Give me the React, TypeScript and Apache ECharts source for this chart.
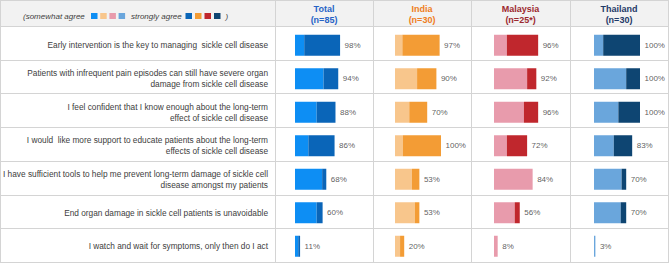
import React, { useEffect, useRef } from "react";
import * as echarts from "echarts";

const statements = [
  "Early intervention is the key to managing  sickle cell disease",
  "Patients with infrequent pain episodes can still have severe organ\ndamage from sickle cell disease",
  "I feel confident that I know enough about the long-term\neffect of sickle cell disease",
  "I would  like more support to educate patients about the long-term\neffects of sickle cell disease",
  "I have sufficient tools to help me prevent long-term damage of sickle cell\ndisease amongst my patients",
  "End organ damage in sickle cell patients is unavoidable",
  "I watch and wait for symptoms, only then do I act",
];

const groupNames = ["Total", "India", "Malaysia", "Thailand"];
const groupSizes = ["(n=85)", "(n=30)", "(n=25*)", "(n=30)"];

const totalSomewhat = [20, 62, 47, 29, 59, 47, 7];
const totalStrongly = [78, 32, 41, 57, 9, 13, 4];
const totalNet = [98, 94, 88, 86, 68, 60, 11];

const indiaSomewhat = [16, 48, 31, 17, 37, 43, 11];
const indiaStrongly = [81, 42, 39, 83, 16, 10, 9];
const indiaNet = [97, 90, 70, 100, 53, 53, 20];

const malaysiaSomewhat = [28, 72, 65, 28, 84, 45, 8];
const malaysiaStrongly = [68, 20, 31, 44, 0, 11, 0];
const malaysiaNet = [96, 92, 96, 72, 84, 56, 8];

const thailandSomewhat = [20, 70, 53, 43, 60, 58, 3];
const thailandStrongly = [80, 30, 47, 40, 10, 12, 0];
const thailandNet = [100, 100, 100, 83, 70, 70, 3];

const FONT = '"Liberation Sans", Arial, sans-serif';
const TEXT = "#404040";
const LINE = "#d4d4d4";

const somewhatColors = ["#0d8ef4", "#f8c68c", "#e89bac", "#6aa6dc"];
const stronglyColors = ["#0a65b8", "#f39c35", "#c0272d", "#0e4572"];
const headerColors = ["#2763c6", "#ef7d22", "#9c2a2f", "#1f3a68"];

const groups = [
  { somewhat: totalSomewhat, strongly: totalStrongly, net: totalNet },
  { somewhat: indiaSomewhat, strongly: indiaStrongly, net: indiaNet },
  { somewhat: malaysiaSomewhat, strongly: malaysiaStrongly, net: malaysiaNet },
  { somewhat: thailandSomewhat, strongly: thailandStrongly, net: thailandNet },
];

export default function App() {
  const ref = useRef<HTMLDivElement>(null);
  useEffect(() => {
    if (!ref.current) return;
    const chart = echarts.init(ref.current, null, { renderer: "svg" });
    const W = 669;
    const colX = [275, 373, 471, 570, 668];
    const barLeft = [295, 395, 494, 594];
    const tableTop = 26;
    const tableBottom = 262;
    const rowH = (tableBottom - tableTop) / statements.length;

    const graphic: any[] = [];
    graphic.push({ type: "rect", shape: { x: 0, y: 0, width: W, height: tableTop }, style: { fill: "#f2f2f2" }, silent: true, z: -10 });
    for (let i = 0; i <= statements.length; i++) {
      const y = Math.round(tableTop + i * rowH);
      graphic.push({ type: "rect", shape: { x: 0, y: Math.min(y, 262), width: W, height: 1 }, style: { fill: LINE }, silent: true, z: -5 });
    }
    graphic.push({ type: "rect", shape: { x: 0, y: 0, width: W, height: 1 }, style: { fill: LINE }, silent: true, z: -5 });
    graphic.push({ type: "rect", shape: { x: 0, y: 0, width: 1, height: 263 }, style: { fill: LINE }, silent: true, z: -5 });
    colX.forEach((x) => {
      graphic.push({ type: "rect", shape: { x, y: 0, width: 1, height: 263 }, style: { fill: LINE }, silent: true, z: -5 });
    });
    // header
    groupNames.forEach((name, i) => {
      const cx = (colX[i] + colX[i + 1]) / 2;
      graphic.push({ type: "text", x: cx, y: 8.5, style: { text: name, fill: headerColors[i], font: `bold 9px ${FONT}`, textAlign: "center", textVerticalAlign: "middle" } });
      graphic.push({ type: "text", x: cx, y: 19.5, style: { text: groupSizes[i], fill: headerColors[i], font: `bold 9px ${FONT}`, textAlign: "center", textVerticalAlign: "middle" } });
    });
    // legend
    graphic.push({ type: "text", x: 23, y: 16, style: { text: "(somewhat agree", fill: TEXT, font: `italic 8px ${FONT}`, textVerticalAlign: "middle" } });
    somewhatColors.forEach((c, i) => {
      graphic.push({ type: "rect", shape: { x: 91 + i * 9.2, y: 13, width: 6.5, height: 6 }, style: { fill: c } });
    });
    graphic.push({ type: "text", x: 131, y: 16, style: { text: "strongly agree", fill: TEXT, font: `italic 8px ${FONT}`, textVerticalAlign: "middle" } });
    stronglyColors.forEach((c, i) => {
      graphic.push({ type: "rect", shape: { x: 185.5 + i * 9.5, y: 13, width: 6.5, height: 6 }, style: { fill: c } });
    });
    graphic.push({ type: "text", x: 225.5, y: 16, style: { text: ")", fill: TEXT, font: `italic 8px ${FONT}`, textVerticalAlign: "middle" } });

    const grid: any[] = [];
    const xAxis: any[] = [];
    const yAxis: any[] = [];
    const series: any[] = [];
    groups.forEach((g, i) => {
      grid.push({ left: barLeft[i], top: tableTop + 2.5, width: 46, height: tableBottom - tableTop });
      xAxis.push({ gridIndex: i, type: "value", min: 0, max: 100, show: false });
      yAxis.push({
        gridIndex: i,
        type: "category",
        inverse: true,
        data: statements,
        axisLine: { show: false },
        axisTick: { show: false },
        splitLine: { show: false },
        axisLabel: i === 0
          ? { show: true, margin: 27, fontSize: 8.3, lineHeight: 11, color: TEXT, fontFamily: FONT, align: "right" }
          : { show: false },
      });
      series.push({
        type: "bar", xAxisIndex: i, yAxisIndex: i, stack: "s" + i, barWidth: 21,
        data: g.somewhat, itemStyle: { color: somewhatColors[i] },
      });
      series.push({
        type: "bar", xAxisIndex: i, yAxisIndex: i, stack: "s" + i, barWidth: 21,
        data: g.strongly, itemStyle: { color: stronglyColors[i] },
      });
      series.push({
        type: "scatter", xAxisIndex: i, yAxisIndex: i, symbolSize: 1,
        itemStyle: { color: "transparent" },
        data: g.net.map((v, k) => [v, k]),
        label: { show: true, position: "right", distance: 4, formatter: (p: any) => p.value[0] + "%", fontSize: 8, color: "#333333", fontFamily: FONT },
      });
    });

    chart.setOption({
      animation: false,
      backgroundColor: "#ffffff",
      grid, xAxis, yAxis, series, graphic,
    });
    return () => chart.dispose();
  }, []);
  return <div ref={ref} style={{ position: "fixed", left: 0, top: 0, width: 669, height: 263 }} />;
}
